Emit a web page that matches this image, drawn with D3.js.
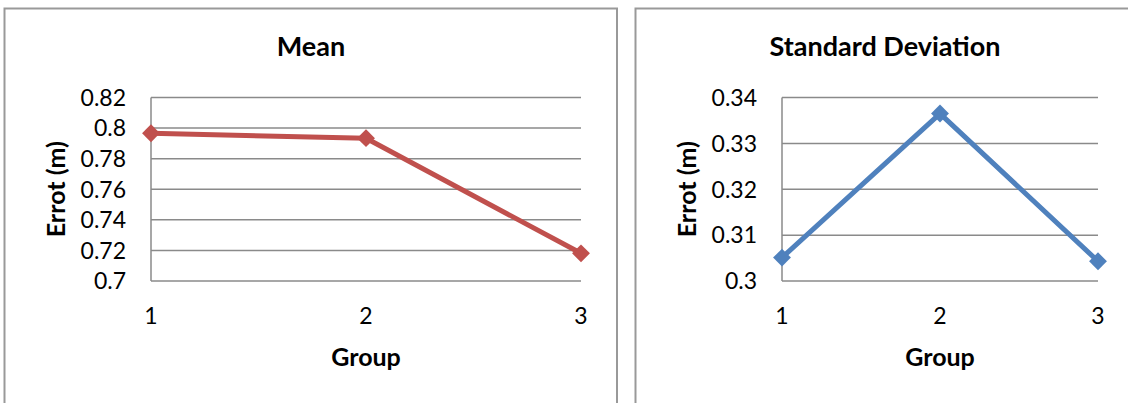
<!DOCTYPE html>
<html><head><meta charset="utf-8">
<script src="https://cdn.jsdelivr.net/npm/d3@7"></script>
<style>html,body{margin:0;padding:0;background:#fff;overflow:hidden}</style>
</head><body>
<svg id="c" width="1128" height="403"></svg>
<script>
const groups = [1, 2, 3];
const meanValues = [0.7966, 0.7934, 0.7181];
const sdValues = [0.3051, 0.3365, 0.3043];
const meanTicks = [0.7, 0.72, 0.74, 0.76, 0.78, 0.8, 0.82];
const sdTicks = [0.3, 0.31, 0.32, 0.33, 0.34];
const titles = ["Mean", "Standard Deviation"];
const yTitle = "Errot (m)";
const xTitle = "Group";

const svg = d3.select("#c");
const FONT = "Lato, 'Open Sans', sans-serif";

const panels = [
  {title: titles[0], values: meanValues, ticks: meanTicks, color: "#C0504D",
   border: [4.5, 8.5, 612.5, 420], plot: {x0: 151, x1: 581, y0: 97.5, y1: 281}, yLab: 56, tickRight: 126, titleX: 311},
  {title: titles[1], values: sdValues, ticks: sdTicks, color: "#4F81BD",
   border: [635.5, 8.5, 520, 420], plot: {x0: 782, x1: 1098, y0: 97.5, y1: 281}, yLab: 687, tickRight: 757, titleX: 885}
];

panels.forEach(p => {
  const g = svg.append("g");
  g.append("rect").attr("x", p.border[0]).attr("y", p.border[1])
    .attr("width", p.border[2]).attr("height", p.border[3])
    .attr("fill", "#fff").attr("stroke", "#999").attr("stroke-width", 2);

  const x = d3.scaleLinear().domain([groups[0], groups[groups.length-1]]).range([p.plot.x0, p.plot.x1]);
  const y = d3.scaleLinear().domain([d3.min(p.ticks), d3.max(p.ticks)]).range([p.plot.y1, p.plot.y0]);

  g.selectAll(".grid").data(p.ticks).join("line")
    .attr("x1", p.plot.x0).attr("x2", p.plot.x1)
    .attr("y1", d => y(d)).attr("y2", d => y(d))
    .attr("stroke", "#8a8a8a").attr("stroke-width", 1.5);
  g.append("line").attr("x1", p.plot.x0).attr("x2", p.plot.x0)
    .attr("y1", p.plot.y0).attr("y2", p.plot.y1)
    .attr("stroke", "#8a8a8a").attr("stroke-width", 1.5);

  g.selectAll(".yt").data(p.ticks).join("text")
    .attr("x", p.tickRight).attr("y", d => y(d)).attr("dy", "0.36em")
    .attr("text-anchor", "end").attr("font-family", FONT).attr("font-size", 23)
    .attr("fill", "#000").text(d => String(+d.toFixed(2)));
  g.selectAll(".xt").data(groups).join("text")
    .attr("x", d => x(d)).attr("y", 324)
    .attr("text-anchor", "middle").attr("font-family", FONT).attr("font-size", 23)
    .attr("fill", "#000").text(d => d);

  g.append("text").attr("x", p.titleX).attr("y", 56)
    .attr("text-anchor", "middle").attr("font-family", FONT).attr("font-weight", "bold")
    .attr("font-size", 27).text(p.title);
  g.append("text").attr("x", (p.plot.x0 + p.plot.x1) / 2).attr("y", 366)
    .attr("text-anchor", "middle").attr("font-family", FONT).attr("font-weight", "bold")
    .attr("font-size", 25).text(xTitle);
  g.append("text").attr("transform", `translate(${p.yLab},${(p.plot.y0 + p.plot.y1) / 2}) rotate(-90)`)
    .attr("dy", "0.35em").attr("text-anchor", "middle").attr("font-family", FONT)
    .attr("font-weight", "bold").attr("font-size", 25).text(yTitle);

  const line = d3.line().x((d, i) => x(groups[i])).y(d => y(d));
  g.append("path").datum(p.values).attr("d", line)
    .attr("fill", "none").attr("stroke", p.color).attr("stroke-width", 5)
    .attr("stroke-linejoin", "round");
  g.selectAll(".m").data(p.values).join("path")
    .attr("d", d3.symbol(d3.symbolSquare, 160)())
    .attr("transform", (d, i) => `translate(${x(groups[i])},${y(d)}) rotate(45)`)
    .attr("fill", p.color);
});
</script>
</body></html>
